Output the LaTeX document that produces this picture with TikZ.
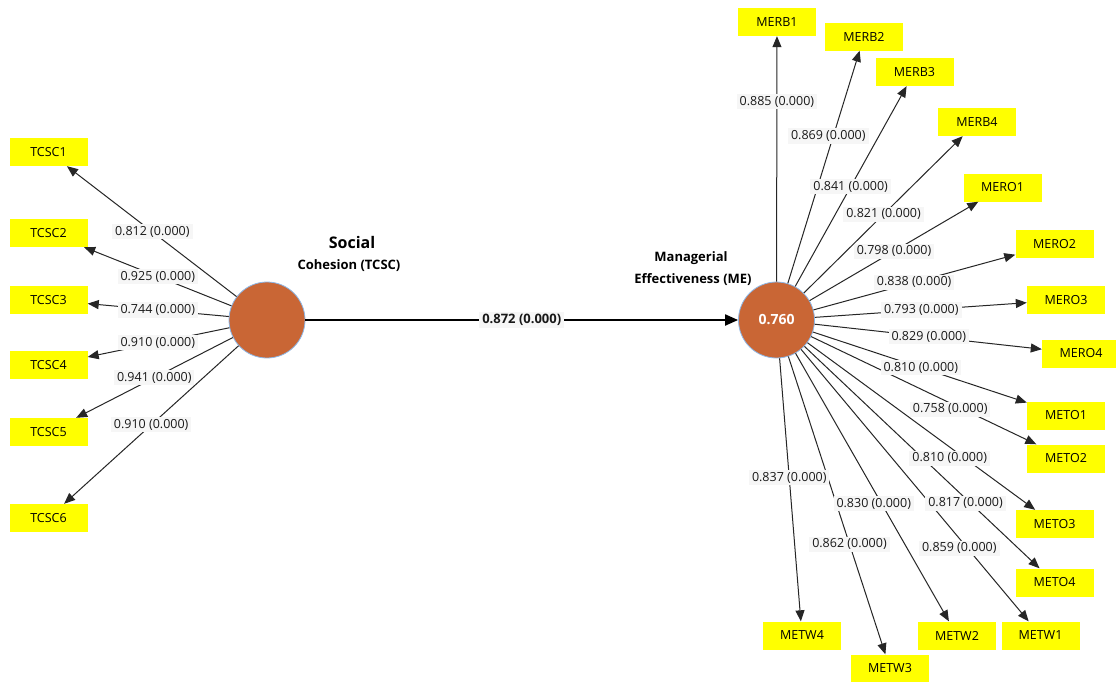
\documentclass[tikz,border=0pt]{standalone}
\usepackage{fontspec}
\setmainfont{Open Sans}
\usetikzlibrary{arrows.meta,calc}

\definecolor{latentfill}{HTML}{C96635}
\definecolor{latentrim}{HTML}{8DB8E8}
\definecolor{itemfill}{HTML}{FFFF00}
\definecolor{labelbg}{HTML}{F6F6F6}
\definecolor{linegray}{HTML}{262626}

\tikzset{
  latent/.style={circle, fill=latentfill, draw=latentrim, line width=0.8pt,
                 minimum size=76pt, inner sep=0pt},
  item/.style={rectangle, fill=itemfill, minimum width=78pt, minimum height=28pt,
               inner sep=0pt, font=\fontsize{12.5}{14}\selectfont},
  load/.style={draw=linegray, line width=1pt,
               -{Triangle[length=11pt,width=9pt]}},
  path/.style={draw=black, line width=2pt,
               -{Triangle[length=13pt,width=11pt]}},
  lbl/.style={fill=labelbg, inner xsep=3pt, inner ysep=2pt, text=black!90,
              font=\fontsize{12.5}{14}\selectfont},
  title/.style={font=\bfseries\fontsize{13}{15}\selectfont, text=black}
}

\begin{document}
\begin{tikzpicture}[x=1pt,y=-1pt]
\useasboundingbox[fill=white] (0,0) rectangle (1116,681);

% latent variables
\node[latent] (SC) at (267,320) {};
\node[latent] (ME) at (776.5,320)
  {\textcolor{white}{\bfseries\fontsize{14}{16}\selectfont 0.760}};

% construct titles
\node[title, font=\bfseries\fontsize{16}{18}\selectfont] (tSocial) at (352,242) {Social};
\node[title] (tCohesion) at (349,266) {Cohesion (TCSC)};
\node[title] (tManag) at (691,258) {Managerial};
\node[title] (tEffect) at (693,280) {Effectiveness (ME)};

% indicators of social cohesion
\node[item] (TCSC1) at (48.5,152) {TCSC1};
\node[item] (TCSC2) at (48.5,233) {TCSC2};
\node[item] (TCSC3) at (48.5,300) {TCSC3};
\node[item] (TCSC4) at (48.5,365) {TCSC4};
\node[item] (TCSC5) at (48.5,432) {TCSC5};
\node[item] (TCSC6) at (48.5,518) {TCSC6};

% indicators of managerial effectiveness
\node[item] (MERB1) at (777,22) {MERB1};
\node[item] (MERB2) at (864,36.5) {MERB2};
\node[item] (MERB3) at (914.5,72) {MERB3};
\node[item] (MERB4) at (977,122) {MERB4};
\node[item] (MERO1) at (1002.5,187.5) {MERO1};
\node[item] (MERO2) at (1054.5,244) {MERO2};
\node[item] (MERO3) at (1066,300) {MERO3};
\node[item] (MERO4) at (1081,353.5) {MERO4};
\node[item] (METO1) at (1066,415.5) {METO1};
\node[item] (METO2) at (1066,458.5) {METO2};
\node[item] (METO3) at (1054.5,524) {METO3};
\node[item] (METO4) at (1054.5,582.5) {METO4};
\node[item] (METW1) at (1040.5,635.5) {METW1};
\node[item] (METW2) at (957,635.5) {METW2};
\node[item] (METW3) at (890,668.5) {METW3};
\node[item] (METW4) at (802,635.5) {METW4};

% loadings: connectors
\foreach \t in {TCSC1,TCSC2,TCSC3,TCSC4,TCSC5,TCSC6}
  \draw[load] (SC) -- (\t);
\foreach \t in {MERB1,MERB2,MERB3,MERB4,MERO1,MERO2,MERO3,MERO4,
                METO1,METO2,METO3,METO4,METW1,METW2,METW3,METW4}
  \draw[load] (ME) -- (\t);

% structural path
\draw[path] (SC) -- node[lbl, font=\bfseries\fontsize{13}{15}\selectfont] (bME) {0.872 (0.000)} (ME);

% loading labels (drawn over the connectors)
\node[lbl] (lTCSC1) at ($(SC)!0.525!(TCSC1)$) {0.812 (0.000)};
\node[lbl] (lTCSC2) at ($(SC)!0.50!(TCSC2)$) {0.925 (0.000)};
\node[lbl] (lTCSC3) at ($(SC)!0.50!(TCSC3)$) {0.744 (0.000)};
\node[lbl] (lTCSC4) at ($(SC)!0.50!(TCSC4)$) {0.910 (0.000)};
\node[lbl] (lTCSC5) at ($(SC)!0.516!(TCSC5)$) {0.941 (0.000)};
\node[lbl] (lTCSC6) at ($(SC)!0.53!(TCSC6)$) {0.910 (0.000)};

\node[lbl] (lMERB1) at ($(ME)!0.733!(MERB1)$) {0.885 (0.000)};
\node[lbl, xshift=-5pt] (lMERB2) at ($(ME)!0.649!(MERB2)$) {0.869 (0.000)};
\node[lbl] (lMERB3) at ($(ME)!0.5375!(MERB3)$) {0.841 (0.000)};
\node[lbl] (lMERB4) at ($(ME)!0.534!(MERB4)$) {0.821 (0.000)};
\node[lbl] (lMERO1) at ($(ME)!0.52!(MERO1)$) {0.798 (0.000)};
\node[lbl] (lMERO2) at ($(ME)!0.495!(MERO2)$) {0.838 (0.000)};
\node[lbl] (lMERO3) at ($(ME)!0.50!(MERO3)$) {0.793 (0.000)};
\node[lbl] (lMERO4) at ($(ME)!0.50!(MERO4)$) {0.829 (0.000)};
\node[lbl] (lMETO1) at ($(ME)!0.4985!(METO1)$) {0.810 (0.000)};
\node[lbl, yshift=-6pt] (lMETO2) at ($(ME)!0.60!(METO2)$) {0.758 (0.000)};
\node[lbl, yshift=-11pt] (lMETO3) at ($(ME)!0.623!(METO3)$) {0.810 (0.000)};
\node[lbl, xshift=-5pt] (lMETO4) at ($(ME)!0.698!(METO4)$) {0.817 (0.000)};
\node[lbl, xshift=-8pt] (lMETW1) at ($(ME)!0.7227!(METW1)$) {0.859 (0.000)};
\node[lbl, xshift=-8pt] (lMETW2) at ($(ME)!0.583!(METW2)$) {0.830 (0.000)};
\node[lbl] (lMETW3) at ($(ME)!0.643!(METW3)$) {0.862 (0.000)};
\node[lbl] (lMETW4) at ($(ME)!0.50!(METW4)$) {0.837 (0.000)};
\end{tikzpicture}
\end{document}
